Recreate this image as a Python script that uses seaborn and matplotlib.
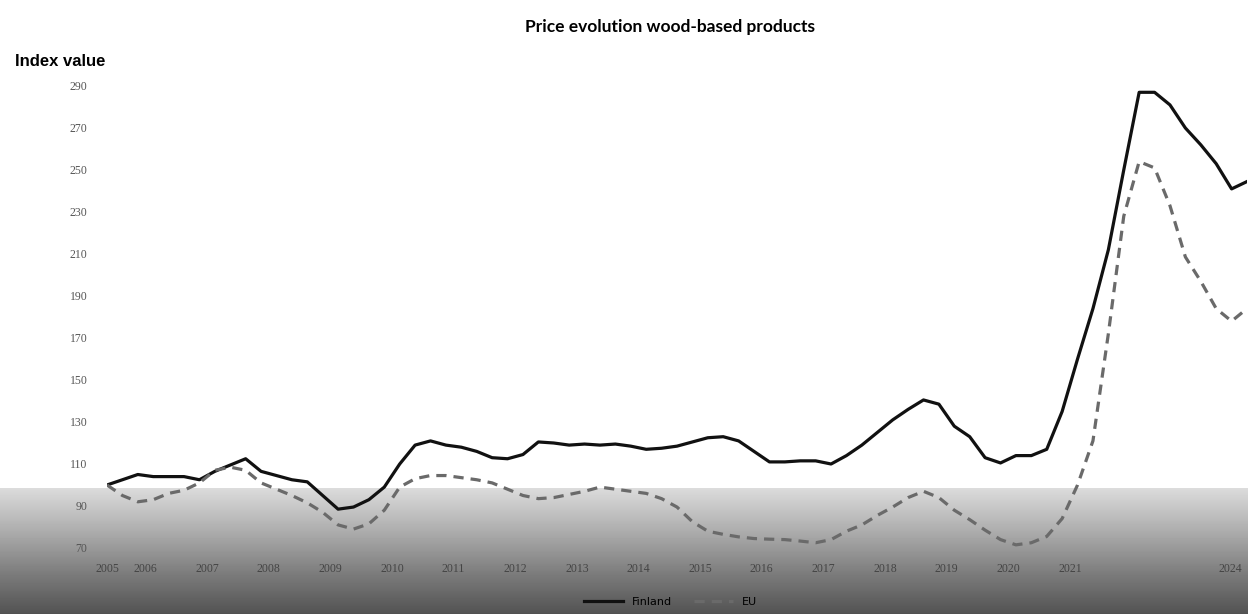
import numpy as np
import pandas as pd
import matplotlib
matplotlib.use("Agg")
import matplotlib.pyplot as plt
from matplotlib.lines import Line2D
import seaborn as sns

# ---- data (quarterly index values, starting 2005 Q4) ----
finland = [100, 102.5, 105, 104, 104, 104, 102.5, 106.5, 109.5, 112.5,
           106.5, 104.5, 102.5, 101.5, 95, 88.5, 89.5, 93, 99, 110,
           119, 121, 119, 118, 116, 113, 112.5, 114.5, 120.5, 120,
           119, 119.5, 119, 119.5, 118.5, 117, 117.5, 118.5, 120.5, 122.5,
           123, 121, 116, 111, 111, 111.5, 111.5, 110, 114, 119,
           125, 131, 136, 140.5, 138.5, 128, 123, 113, 110.5, 114,
           114, 117, 135, 160, 184, 212, 250, 287, 287, 281,
           270, 262, 253, 241, 244.5]
eu = [100, 95, 92, 93, 96, 97.5, 101, 107, 108.5, 107,
      101, 98, 95, 91.5, 87, 81, 79, 81.5, 88, 99,
      103, 104.5, 104.5, 103.5, 102.5, 101, 98, 95, 93.5, 94,
      95.5, 97, 99, 98, 97, 96, 93.5, 89.5, 82.5, 78,
      76.5, 75.3, 74.5, 74.2, 74, 73.3, 72.5, 74, 78, 81,
      85.5, 89.5, 94, 97, 94, 88, 83.5, 78.5, 74, 71.5,
      72.5, 75.5, 84, 100, 121, 172, 228, 254, 251, 233,
      208.6, 197, 184, 178, 184]
series_names = ["Finland", "EU"]
year_labels = ["2005", "2006", "2007", "2008", "2009", "2010", "2011", "2012",
               "2013", "2014", "2015", "2016", "2017", "2018", "2019", "2020",
               "2021", "2024"]
y_ticks = [70, 90, 110, 130, 150, 170, 190, 210, 230, 250, 270, 290]

n = len(finland)
df = pd.DataFrame({
    "q": list(range(n)) * 2,
    "value": finland + eu,
    "series": [series_names[0]] * n + [series_names[1]] * n,
})

label_pos = [0] + [2.5 + 4 * k for k in range(16)] + [72.9]

fig = plt.figure(figsize=(12.48, 6.14), dpi=100)

# background gradient (white top, darkening band at bottom)
H = 614
g = np.ones(H)
ys = np.arange(H)
mask = ys >= 488
g[mask] = np.interp(ys[mask], [488, 530, 570, 614], [0.86, 0.68, 0.5, 0.32])
bg = fig.add_axes([0, 0, 1, 1], zorder=-10)
bg.imshow(g[:, None] * np.ones((1, 10)), cmap="gray", vmin=0, vmax=1,
          aspect="auto", extent=[0, 1, 0, 1], origin="upper")
bg.axis("off")

ax = fig.add_axes([107 / 1248, 1 - 548 / 614, 1140 / 1248, (548 - 86) / 614])
ax.patch.set_alpha(0)

sns.lineplot(data=df, x="q", y="value", hue="series", style="series",
             palette={"Finland": "#111111", "EU": "#6a6a6a"},
             dashes={"Finland": "", "EU": (3.2, 2.2)},
             linewidth=2.3, ax=ax, legend=False)

ax.set_xlim(0, n - 1)
ax.set_ylim(70, 290)
ax.set_yticks(y_ticks)
ax.set_yticklabels([str(v) for v in y_ticks], fontsize=8.5, color="#555555",
                   family="Liberation Serif")
ax.set_xticks(label_pos)
ax.set_xticklabels(year_labels, fontsize=8.5, color="#444444",
                   family="Liberation Serif")
ax.tick_params(axis="both", length=0)
ax.tick_params(axis="y", pad=14)
ax.tick_params(axis="x", pad=11)
for s in ax.spines.values():
    s.set_visible(False)
ax.set_xlabel("")
ax.set_ylabel("")

fig.text(0.537, 1 - 27 / 614, "Price evolution wood-based products",
         ha="center", va="center", fontsize=12.5, fontweight="bold",
         family="Lato")
fig.text(15 / 1248, 1 - 62 / 614, "Index value", ha="left", va="center",
         fontsize=12, fontweight="bold", family="Liberation Sans")

handles = [Line2D([], [], color="#111111", lw=2.3),
           Line2D([], [], color="#6a6a6a", lw=2.3, dashes=(3.2, 2.2))]
fig.legend(handles, series_names, loc="center", ncol=2, frameon=False,
           bbox_to_anchor=(0.537, 1 - 602 / 614), fontsize=8,
           handlelength=3.5, columnspacing=2)

fig.savefig("out.png", dpi=100)
